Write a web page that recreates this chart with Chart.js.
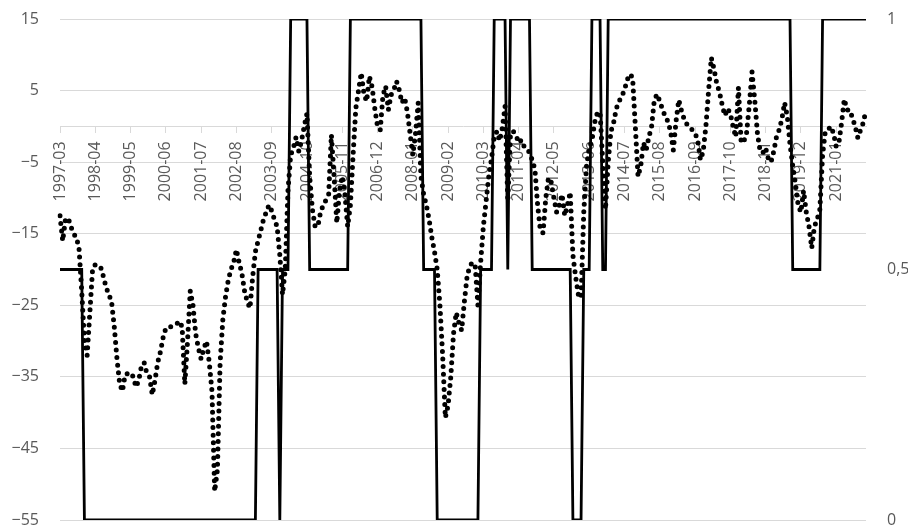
<!DOCTYPE html>
<html>
<head>
<meta charset="utf-8">
<title>Indicador y régimen</title>
<script src="https://cdn.jsdelivr.net/npm/chart.js@4.4.1/dist/chart.umd.min.js"></script>
<style>
  html, body { margin: 0; padding: 0; background: #ffffff; }
  #chart { display: block; }
</style>
</head>
<body>
<canvas id="chart" width="908" height="526"></canvas>
<script>
/* ============================================
   Monthly indicator (dotted, left axis) against
   the regime state 0 / 0.5 / 1 (solid, right axis).
   ============================================ */

// First month of both series
const START_YEAR = 1997;
const START_MONTH = 3;

// Monthly indicator, one row per calendar year
const INDICATOR = [
  -12.5, -16, -13, -12.8, -14, -15, -15.5, -17, -23, -30,                 // 1997 (Mar-Dec)
  -32, -26, -20, -19.3, -19.5, -19.7, -21, -22.5, -23.5, -24.5, -28, -32.5, // 1998
  -36, -37, -34.7, -34.5, -34.4, -35, -36.4, -35.5, -33.5, -33, -34.5, -35, // 1999
  -37.5, -35.5, -33, -31.5, -29.5, -28.2, -28, -28, -27.8, -27.6, -27.2, -28, // 2000
  -36, -30, -23, -25, -29, -31, -32.5, -31, -30, -33, -37, -51,             // 2001
  -48, -33, -27, -23.8, -21.5, -20, -19, -17.2, -19, -20.5, -23, -24.5,     // 2002
  -25.4, -21, -17.5, -16, -14.5, -13, -12, -11, -11.8, -13, -14, -18,       // 2003
  -23.5, -20, -9, -4, -3, -1.5, -3.5, -2, 0, 1.8, -7, -11.6,                // 2004
  -14, -14, -12, -11, -10.3, -9.5, -1.2, -7, -13.5, -9, -7, -9.5,           // 2005
  -14, -11, -4, 2.5, 5, 7.5, 4.5, 3.5, 7, 5.5, 2.5, 0,                      // 2006
  -0.5, 4.3, 5.6, 2.3, 4.4, 5.1, 6.3, 5.1, 3.3, 4, 2, -1,                   // 2007
  -4, -1, 3.3, -7, -9.5, -11, -13, -15.5, -17.5, -20, -25, -32,             // 2008
  -40.7, -39, -35, -29, -26, -27.5, -28.5, -24.5, -21, -19.5, -19, -19.5,   // 2009
  -25, -19, -14, -10.5, -7, -4.5, -1.5, -0.7, -2, -0.2, 2.8, -10.5,         // 2010
  -1, -0.7, -1.2, -2.3, -1.9, -2.8, -3, -3.7, -4.7, -6, -11, -14.5,         // 2011
  -14.9, -10, -7.2, -7.8, -10, -12, -11, -9.5, -12.5, -11, -9.2, -18,       // 2012
  -21, -23.5, -24, -12, -5.6, -3, -2, 0.5, 1.9, 2, -5, -11.6,               // 2013
  -5, -0.7, 0.5, 2.5, 3.5, 4.2, 5.1, 6.5, 7.3, 6.8, 0, -7,                  // 2014
  -5.5, -2.3, -3.3, -1.5, 0, 3.7, 4.5, 3.5, 2.4, 1.4, 0.7, -0.7,            // 2015
  -3.3, 0.7, 3.7, 2.2, 1, 0.3, -0.2, -0.5, -0.9, -2, -4.7, -3.5,            // 2016
  0, 5, 9.6, 8, 6, 4.8, 3, 1.5, 2.5, 1.8, 0, -1.5,                          // 2017
  5.4, -2.3, -2.1, -0.9, 3, 7.6, 3.7, -1, -3.5, -3.7, -3, -4.5,             // 2018
  -5, -3.5, -1.5, -0.5, 1, 3.3, 1.4, -2.5, -5.5, -8, -11, -12,              // 2019
  -9, -12, -14, -17, -14, -13, -11.6, -4, -0.7, -0.5, 0, -0.9,              // 2020
  -2.8, -2.3, 0.5, 3.8, 2.3, 2.3, 1.2, 0, -1.6, -0.5, 0.5, 2.3,             // 2021
];

// Regime state per month
const REGIME = [
  0.5, 0.5, 0.5, 0.5, 0.5, 0.5, 0.5, 0.5, 0.5, 0,          // 1997 (Mar-Dec)
  0, 0, 0, 0, 0, 0, 0, 0, 0, 0, 0, 0,                      // 1998
  0, 0, 0, 0, 0, 0, 0, 0, 0, 0, 0, 0,                      // 1999
  0, 0, 0, 0, 0, 0, 0, 0, 0, 0, 0, 0,                      // 2000
  0, 0, 0, 0, 0, 0, 0, 0, 0, 0, 0, 0,                      // 2001
  0, 0, 0, 0, 0, 0, 0, 0, 0, 0, 0, 0,                      // 2002
  0, 0, 0, 0.5, 0.5, 0.5, 0.5, 0.5, 0.5, 0.5, 0.5, 0,      // 2003
  0.5, 0.5, 0.5, 1, 1, 1, 1, 1, 1, 1, 0.5, 0.5,            // 2004
  0.5, 0.5, 0.5, 0.5, 0.5, 0.5, 0.5, 0.5, 0.5, 0.5, 0.5, 0.5, // 2005
  0.5, 1, 1, 1, 1, 1, 1, 1, 1, 1, 1, 1,                    // 2006
  1, 1, 1, 1, 1, 1, 1, 1, 1, 1, 1, 1,                      // 2007
  1, 1, 1, 1, 0.5, 0.5, 0.5, 0.5, 0.5, 0, 0, 0,            // 2008
  0, 0, 0, 0, 0, 0, 0, 0, 0, 0, 0, 0,                      // 2009
  0, 0.5, 0.5, 0.5, 0.5, 0.5, 1, 1, 1, 1, 1, 0.5,          // 2010
  1, 1, 1, 1, 1, 1, 1, 1, 0.5, 0.5, 0.5, 0.5,              // 2011
  0.5, 0.5, 0.5, 0.5, 0.5, 0.5, 0.5, 0.5, 0.5, 0.5, 0.5, 0, // 2012
  0, 0, 0, 0.5, 0.5, 0.5, 1, 1, 1, 1, 0.5, 0.5,            // 2013
  1, 1, 1, 1, 1, 1, 1, 1, 1, 1, 1, 1,                      // 2014
  1, 1, 1, 1, 1, 1, 1, 1, 1, 1, 1, 1,                      // 2015
  1, 1, 1, 1, 1, 1, 1, 1, 1, 1, 1, 1,                      // 2016
  1, 1, 1, 1, 1, 1, 1, 1, 1, 1, 1, 1,                      // 2017
  1, 1, 1, 1, 1, 1, 1, 1, 1, 1, 1, 1,                      // 2018
  1, 1, 1, 1, 1, 1, 1, 1, 0.5, 0.5, 0.5, 0.5,              // 2019
  0.5, 0.5, 0.5, 0.5, 0.5, 0.5, 0.5, 1, 1, 1, 1, 1,        // 2020
  1, 1, 1, 1, 1, 1, 1, 1, 1, 1, 1, 1,                      // 2021
];

// Months that carry a label on the x axis
const TICK_LABELS = [
  '1997-03', '1998-04', '1999-05', '2000-06', '2001-07', '2002-08',
  '2003-09', '2004-10', '2005-11', '2006-12', '2008-01', '2009-02',
  '2010-03', '2011-04', '2012-05', '2013-06', '2014-07', '2015-08',
  '2016-09', '2017-10', '2018-11', '2019-12', '2021-01',
];

// Axis ranges
const LEFT_MIN = -55;
const LEFT_MAX = 15;
const LEFT_STEP = 10;
const RIGHT_MIN = 0;
const RIGHT_MAX = 1;
const RIGHT_STEP = 0.5;

const TEXT_COLOR = '#595959';
const GRID_COLOR = '#d9d9d9';

/** 'YYYY-MM' labels for every month of the series. */
function buildMonths(year, month, count) {
  const out = [];
  for (let k = 0; k < count; k++) {
    const m = month - 1 + k;
    out.push(`${year + Math.floor(m / 12)}-${String((m % 12) + 1).padStart(2, '0')}`);
  }
  return out;
}

const MONTHS = buildMonths(START_YEAR, START_MONTH, INDICATOR.length);

Chart.defaults.font.family = '"Open Sans", "Noto Sans", sans-serif';
Chart.defaults.font.size = 16;
Chart.defaults.color = TEXT_COLOR;

new Chart(document.getElementById('chart'), {
  type: 'line',
  data: {
    labels: MONTHS,
    datasets: [
      {
        label: 'Indicador',
        data: INDICATOR,
        yAxisID: 'y',
        borderColor: '#000000',
        borderWidth: 5,
        borderDash: [0, 7.6],   // round caps turn zero-length dashes into dots
        borderCapStyle: 'round',
        borderJoinStyle: 'round',
        pointRadius: 0,
        tension: 0,
        fill: false,
      },
      {
        label: 'Régimen',
        data: REGIME,
        yAxisID: 'y1',
        borderColor: '#000000',
        borderWidth: 2.8,
        pointRadius: 0,
        tension: 0,
        fill: false,
      },
    ],
  },
  options: {
    responsive: false,
    animation: false,
    layout: { padding: { top: 19, bottom: 6, left: 0, right: 0 } },
    plugins: {
      legend: { display: false },
      tooltip: { enabled: false },
    },
    scales: {
      x: {
        type: 'category',
        position: { y: 0 },   // axis crosses the left scale at zero
        offset: false,
        grid: {
          drawOnChartArea: false,
          drawTicks: true,
          tickLength: 6,
          color: (ctx) => (TICK_LABELS.includes(MONTHS[ctx.index]) ? GRID_COLOR : 'rgba(0,0,0,0)'),
        },
        border: { display: true, color: GRID_COLOR, width: 1 },
        ticks: {
          autoSkip: false,
          minRotation: 90,
          maxRotation: 90,
          padding: 9,
          color: TEXT_COLOR,
          font: { size: 16 },
          callback: (value, index) => (TICK_LABELS.includes(MONTHS[index]) ? MONTHS[index] : ''),
        },
      },
      y: {
        position: 'left',
        min: LEFT_MIN,
        max: LEFT_MAX,
        grid: { color: GRID_COLOR, lineWidth: 1, drawTicks: false },
        border: { display: false },
        ticks: {
          stepSize: LEFT_STEP,
          padding: 21,
          color: TEXT_COLOR,
          font: { size: 16 },
          callback: (v) => String(v).replace('-', '\u2212'),
        },
        afterFit: (scale) => {
          scale.width = 60;
          scale.paddingTop = 0;
          scale.paddingBottom = 0;
        },
      },
      y1: {
        position: 'right',
        min: RIGHT_MIN,
        max: RIGHT_MAX,
        grid: { display: false, drawTicks: false },
        border: { display: false },
        ticks: {
          stepSize: RIGHT_STEP,
          padding: 21,
          color: TEXT_COLOR,
          font: { size: 16 },
          callback: (v) => String(v).replace('.', ','),
        },
        afterFit: (scale) => {
          scale.width = 42;
          scale.paddingTop = 0;
          scale.paddingBottom = 0;
        },
      },
    },
  },
});
</script>
</body>
</html>
